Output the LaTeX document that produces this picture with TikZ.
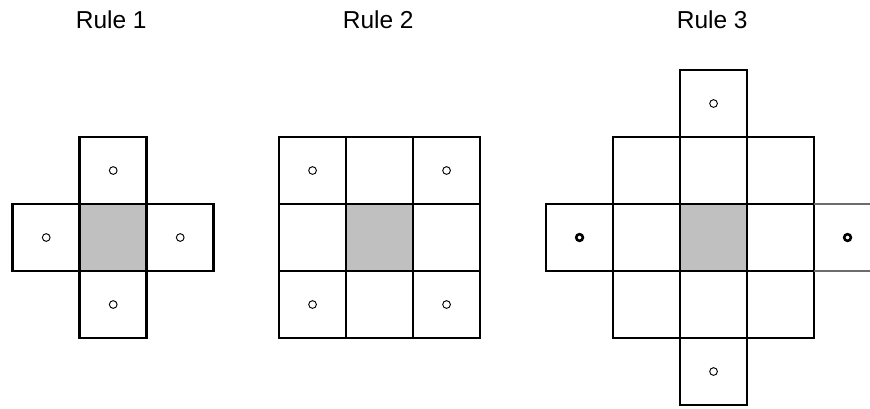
\documentclass[tikz,border=0pt]{standalone}
\usepackage{fontspec}
\setmainfont{Liberation Sans}
\definecolor{centregray}{RGB}{192,192,192}

\begin{document}
\begin{tikzpicture}[
  x=1cm,
  y=1cm,
  font=\fontsize{10.4}{12}\selectfont,
  cell/.style={
    rectangle,
    draw=black,
    line width=1.15pt,
    minimum size=1cm,
    inner sep=0pt,
    outer sep=0pt
  },
  centre/.style={cell, fill=centregray},
  dot/.style={
    circle,
    draw=black,
    line width=0.4pt,
    minimum size=0.115cm,
    inner sep=0pt
  },
  bolddot/.style={dot, line width=1.1pt, minimum size=0.1cm},
  opencell/.style={draw=gray!85!black, line width=0.45pt},
  title/.style={anchor=base}
]
\useasboundingbox (0,0) rectangle (12.985,6.090);

% ---------------------------------------------------------------------------
% Rule 1: the four edge neighbours
% ---------------------------------------------------------------------------
\begin{scope}[shift={(1.69,2.545)}]
  \node[title] (t1) at (-0.03,3.127) {Rule 1};
  \foreach \col/\row in {2/1, 1/2, 3/2, 2/3} {
    \node[cell] (c1-\col-\row) at (\col-2,2-\row) {};
    \node[dot] (d1-\col-\row) at (c1-\col-\row) {};
  }
  \node[centre] (c1-2-2) at (0,0) {};
\end{scope}

% ---------------------------------------------------------------------------
% Rule 2: the full 3x3 block, corner neighbours marked
% ---------------------------------------------------------------------------
\begin{scope}[shift={(5.665,2.545)}]
  \node[title] (t2) at (-0.02,3.127) {Rule 2};
  \foreach \col in {1,2,3}
    \foreach \row in {1,2,3}
      \node[cell] (c2-\col-\row) at (\col-2,2-\row) {};
  \node[centre] (c2-2-2) at (0,0) {};
  \foreach \col/\row in {1/1, 3/1, 1/3, 3/3}
    \node[dot] (d2-\col-\row) at (c2-\col-\row) {};
\end{scope}

% ---------------------------------------------------------------------------
% Rule 3: 3x3 block plus the cells two steps away
% ---------------------------------------------------------------------------
\begin{scope}[shift={(10.65,2.545)}]
  \node[title] (t3) at (-0.02,3.127) {Rule 3};
  \foreach \col in {1,2,3}
    \foreach \row in {1,2,3}
      \node[cell] (c3-\col-\row) at (\col-2,2-\row) {};
  \node[centre] (c3-2-2) at (0,0) {};
  \foreach \col/\row in {2/0, 2/4, 0/2}
    \node[cell] (c3-\col-\row) at (\col-2,2-\row) {};
  \node[dot] (d3-2-0) at (c3-2-0) {};
  \node[dot] (d3-2-4) at (c3-2-4) {};
  \node[bolddot] (d3-0-2) at (c3-0-2) {};

  % cell cut off by the right margin
  \coordinate (e3n) at (2.335,0.5);
  \coordinate (e3s) at (2.335,-0.5);
  \draw[opencell] (c3-3-2.north east) -- (e3n);
  \draw[opencell] (c3-3-2.south east) -- (e3s);
  \node[bolddot] (d3-4-2) at (2,0) {};
\end{scope}

\end{tikzpicture}
\end{document}
